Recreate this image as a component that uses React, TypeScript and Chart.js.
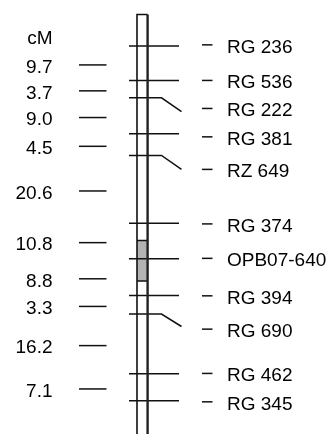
import React, { useEffect, useRef } from "react";
import { Chart, registerables } from "chart.js";

Chart.register(...registerables);

// ---- data ----
const markerNames = ["RG 236", "RG 536", "RG 222", "RG 381", "RZ 649", "RG 374", "OPB07-640", "RG 394", "RG 690", "RG 462", "RG 345"];
// drawn position of each marker on the bar (map units, top marker = 0)
const markerPos = [0, 9.1, 13.7, 23.2, 28.9, 46.8, 56.2, 65.9, 70.8, 86.6, 93.7];
// drawn position of each marker's label on the right
const labelPos = [-0.3, 9.1, 16.5, 24.0, 32.6, 47.0, 56.1, 66.0, 74.8, 86.5, 94.0];
// markers whose connector is bent toward its label, and where the bend ends
const bentMarkers = ["RG 222", "RZ 649", "RG 690"];
const bentEndPos = [17.35, 32.6, 74.1];
// interval lengths (cM) between consecutive markers
const intervalLabels = ["9.7", "3.7", "9.0", "4.5", "20.6", "10.8", "8.8", "3.3", "16.2", "7.1"];
// shaded region on the bar (map units)
const shadedStart = 51.4;
const shadedEnd = 62.1;
const barTop = -8.3;
const unitLabel = "cM";

// ---- layout (horizontal units) ----
const X = {
  barL: 137,
  barR: 147.6,
  lineL: 129,
  lineR: 179,
  bend: 161.5,
  bendEnd: 181.5,
  dashL: 202,
  dashR: 212.5,
  textL: 227,
  leftText: 52.5,
  leftDashL: 79,
  leftDashR: 106.5,
};
const FONT = "19px 'Liberation Sans', Arial, sans-serif";
const INK = "#111";

export default function App() {
  const ref = useRef<HTMLCanvasElement | null>(null);

  useEffect(() => {
    document.body.style.margin = "0";
    const canvas = ref.current;
    if (!canvas) return;

    const seg = (pts: { x: number; y: number }[], w = 1.5, color = INK) => ({
      data: pts,
      showLine: true,
      borderColor: color,
      borderWidth: w,
      pointRadius: 0,
      fill: false,
      tension: 0,
    });

    const datasets: any[] = [];
    // chromosome bar
    datasets.push(seg([{ x: X.barL, y: 120 }, { x: X.barL, y: barTop }, { x: X.barR, y: barTop }], 1.6));
    datasets.push(seg([{ x: X.barR, y: barTop }, { x: X.barR, y: 120 }], 2.4, "#222"));
    // marker connectors
    markerNames.forEach((name, i) => {
      const b = bentMarkers.indexOf(name);
      if (b >= 0) {
        datasets.push(
          seg([
            { x: X.lineL, y: markerPos[i] },
            { x: X.bend, y: markerPos[i] },
            { x: X.bendEnd, y: bentEndPos[b] },
          ])
        );
      } else {
        datasets.push(seg([{ x: X.lineL, y: markerPos[i] }, { x: X.lineR, y: markerPos[i] }]));
      }
      // small dash before label
      datasets.push(seg([{ x: X.dashL, y: labelPos[i] }, { x: X.dashR, y: labelPos[i] }]));
    });
    // interval dashes on the left
    intervalLabels.forEach((_, i) => {
      const mid = (markerPos[i] + markerPos[i + 1]) / 2 + 0.45;
      datasets.push(seg([{ x: X.leftDashL, y: mid }, { x: X.leftDashR, y: mid }], 1.5));
    });

    const textPlugin = {
      id: "mapText",
      beforeDatasetsDraw(chart: any) {
        const { ctx } = chart;
        const xs = chart.scales.x;
        const ys = chart.scales.y;
        const x0 = xs.getPixelForValue(X.barL);
        const x1 = xs.getPixelForValue(X.barR);
        const y0 = ys.getPixelForValue(shadedStart);
        const y1 = ys.getPixelForValue(shadedEnd);
        ctx.save();
        ctx.fillStyle = "#b3b3b3";
        ctx.fillRect(x0, y0, x1 - x0, y1 - y0);
        ctx.strokeStyle = INK;
        ctx.lineWidth = 1.4;
        ctx.beginPath();
        ctx.moveTo(x0, y0);
        ctx.lineTo(x1, y0);
        ctx.moveTo(x0, y1);
        ctx.lineTo(x1, y1);
        ctx.stroke();
        ctx.restore();
      },
      afterDatasetsDraw(chart: any) {
        const { ctx } = chart;
        const xs = chart.scales.x;
        const ys = chart.scales.y;
        ctx.save();
        ctx.font = FONT;
        ctx.fillStyle = "#000";
        ctx.textBaseline = "middle";
        ctx.textAlign = "left";
        markerNames.forEach((name, i) => {
          ctx.fillText(name, xs.getPixelForValue(X.textL), ys.getPixelForValue(labelPos[i]) + 2.5);
        });
        ctx.textAlign = "right";
        intervalLabels.forEach((lab, i) => {
          const mid = (markerPos[i] + markerPos[i + 1]) / 2 + 0.45;
          ctx.fillText(lab, xs.getPixelForValue(X.leftText), ys.getPixelForValue(mid) + 2.5);
        });
        ctx.fillText(unitLabel, xs.getPixelForValue(X.leftText), ys.getPixelForValue(-1.8));
        ctx.restore();
      },
    };

    const chart = new Chart(canvas, {
      type: "scatter",
      data: { datasets },
      options: {
        animation: false,
        responsive: false,
        maintainAspectRatio: false,
        layout: { padding: 0 },
        plugins: { legend: { display: false }, tooltip: { enabled: false } },
        scales: {
          x: { type: "linear", min: 0, max: 335, display: false },
          y: { type: "linear", min: -12.15, max: 102.5, reverse: true, display: false },
        },
      },
      plugins: [textPlugin],
    });
    return () => chart.destroy();
  }, []);

  return (
    <div style={{ width: 335, height: 434, background: "#fff" }}>
      <canvas ref={ref} width={335} height={434} style={{ display: "block" }} />
    </div>
  );
}
